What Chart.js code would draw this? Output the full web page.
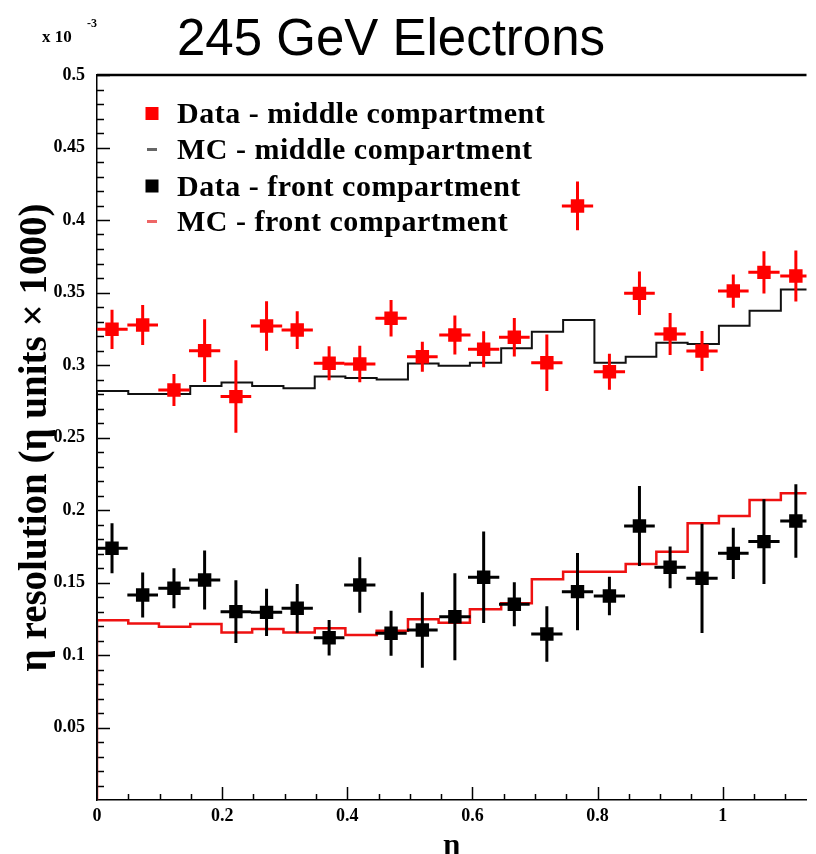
<!DOCTYPE html>
<html>
<head>
<meta charset="utf-8">
<title>245 GeV Electrons</title>
<script src="https://cdn.jsdelivr.net/npm/chart.js@4.4.1/dist/chart.umd.min.js"></script>
<style>
    html, body { margin: 0; padding: 0; background: #fff; }
    #wrap { width: 816px; height: 854px; }
</style>
</head>
<body>
<div id="wrap"><canvas id="chart" width="816" height="854"></canvas></div>
<script>
// Bin edges in eta (MC histograms)
const binEdges = [0, 0.050, 0.099, 0.149, 0.199, 0.248, 0.298, 0.348, 0.397, 0.447, 0.497, 0.546,
    0.596, 0.646, 0.695, 0.745, 0.795, 0.845, 0.894, 0.944, 0.994, 1.043, 1.093, 1.143];

// Eta of the measured points
const etaPoints = [0.024, 0.073, 0.123, 0.172, 0.222, 0.271, 0.320, 0.371, 0.420, 0.470, 0.520, 0.572,
    0.618, 0.667, 0.719, 0.768, 0.819, 0.867, 0.916, 0.967, 1.017, 1.066, 1.117];

// Data - middle compartment
const dataMiddle = [0.3246, 0.3276, 0.2828, 0.3099, 0.2782, 0.3269, 0.3241, 0.3012, 0.3007, 0.3322, 0.3057, 0.3207,
    0.3108, 0.3191, 0.3016, 0.4097, 0.2954, 0.3494, 0.3214, 0.3097, 0.3510, 0.3639, 0.3614];
const dataMiddleErr = [0.0135, 0.0138, 0.0110, 0.0216, 0.0250, 0.0170, 0.0130, 0.0117, 0.0126, 0.0126, 0.0103, 0.0134,
    0.0124, 0.0133, 0.0195, 0.0168, 0.0124, 0.0150, 0.0145, 0.0138, 0.0115, 0.0146, 0.0176];

// Data - front compartment
const dataFront = [0.1736, 0.1414, 0.1460, 0.1517, 0.1299, 0.1294, 0.1322, 0.1119, 0.1483, 0.1150, 0.1172, 0.1264,
    0.1536, 0.1350, 0.1145, 0.1437, 0.1407, 0.1890, 0.1605, 0.1529, 0.1701, 0.1782, 0.1924];
const dataFrontErr = [0.0172, 0.0155, 0.0138, 0.0204, 0.0216, 0.0163, 0.0168, 0.0122, 0.0192, 0.0155, 0.0260, 0.0300,
    0.0315, 0.0152, 0.0192, 0.0267, 0.0132, 0.0276, 0.0144, 0.0377, 0.0176, 0.0292, 0.0253];

// MC histograms (one value per bin)
const mcMiddle = [0.2820, 0.2800, 0.2800, 0.2855, 0.2880, 0.2855, 0.2840, 0.2920, 0.2910, 0.2900, 0.3010, 0.2995,
    0.3016, 0.3115, 0.3230, 0.3310, 0.3016, 0.3057, 0.3154, 0.3145, 0.3270, 0.3375, 0.3520];
const mcFront = [0.1240, 0.1218, 0.1195, 0.1214, 0.1156, 0.1180, 0.1156, 0.1184, 0.1138, 0.1168, 0.1246, 0.1223,
    0.1315, 0.1357, 0.1522, 0.1574, 0.1574, 0.1628, 0.1712, 0.1908, 0.1959, 0.2069, 0.2115];

const titleText = '245 GeV Electrons';
const yTitle = 'η resolution (η units × 1000)';
const xTitle = 'η';
const legendLabels = ['Data - middle compartment', 'MC - middle compartment',
    'Data - front compartment', 'MC - front compartment'];

const serif = '"Liberation Serif", "Times New Roman", serif';

// Build step-histogram points (starts from zero at the first edge)
function histPoints(values) {
    const pts = [{ x: binEdges[0], y: 0 }];
    values.forEach((v, i) => pts.push({ x: binEdges[i], y: v }));
    pts.push({ x: binEdges[binEdges.length - 1], y: values[values.length - 1] });
    return pts;
}

function dataPoints(values) {
    return values.map((v, i) => ({ x: etaPoints[i], y: v }));
}

// Error bars, drawn right before their dataset
const errorBars = {
    id: 'errorBars',
    beforeDatasetDraw(chart, args) {
        const ds = chart.data.datasets[args.index];
        if (!ds.yErr) return;
        const { ctx, chartArea } = chart;
        const xs = chart.scales.x;
        const ys = chart.scales.y;
        ctx.save();
        ctx.beginPath();
        ctx.rect(chartArea.left, chartArea.top, chartArea.width, chartArea.height);
        ctx.clip();
        ctx.strokeStyle = ds.borderColor;
        ctx.lineWidth = 3;
        ds.data.forEach((p, i) => {
            const hw = (binEdges[i + 1] - binEdges[i]) / 2;
            const px = xs.getPixelForValue(p.x);
            const py = ys.getPixelForValue(p.y);
            ctx.beginPath();
            ctx.moveTo(xs.getPixelForValue(p.x - hw), py);
            ctx.lineTo(xs.getPixelForValue(p.x + hw), py);
            ctx.moveTo(px, ys.getPixelForValue(p.y - ds.yErr[i]));
            ctx.lineTo(px, ys.getPixelForValue(p.y + ds.yErr[i]));
            ctx.stroke();
        });
        ctx.restore();
    }
};

// Inward ticks (ROOT style), top frame line, title and legend
const frame = {
    id: 'frame',
    beforeDatasetsDraw(chart) {
        const { ctx, chartArea: a } = chart;
        const xs = chart.scales.x;
        const ys = chart.scales.y;
        ctx.save();
        ctx.strokeStyle = '#000';
        ctx.lineWidth = 1.5;
        ctx.beginPath();
        // y ticks every 0.01, major every 0.05
        for (let i = 1; i <= 50; i++) {
            const py = Math.round(ys.getPixelForValue(i / 100)) + 0.5;
            const len = i % 5 === 0 ? 13 : 7;
            ctx.moveTo(a.left, py);
            ctx.lineTo(a.left + len, py);
        }
        // x ticks every 0.05, major every 0.2
        for (let i = 1; i / 20 <= xs.max; i++) {
            const px = Math.round(xs.getPixelForValue(i / 20)) + 0.5;
            const len = i % 4 === 0 ? 13 : 6;
            ctx.moveTo(px, a.bottom);
            ctx.lineTo(px, a.bottom - len);
        }
        ctx.stroke();
        // top frame
        ctx.lineWidth = 2.5;
        ctx.beginPath();
        ctx.moveTo(a.left, a.top);
        ctx.lineTo(a.right, a.top);
        ctx.stroke();
        ctx.restore();
    },
    afterDraw(chart) {
        const { ctx, chartArea: a } = chart;
        ctx.save();
        ctx.fillStyle = '#000';
        ctx.textBaseline = 'alphabetic';
        ctx.textAlign = 'left';

        // title
        ctx.font = '51px "Liberation Sans", Arial, sans-serif';
        ctx.fillText(titleText, 177, 55);

        // exponent of the y axis
        ctx.font = 'bold 17px ' + serif;
        ctx.fillText('x 10', 42, 42);
        ctx.font = 'bold 12px ' + serif;
        ctx.fillText('-3', 87, 27);

        // legend
        const ds = chart.data.datasets;
        const rowY = [113.5, 149.5, 186, 221.5];
        const markX = a.left + 55;
        ctx.font = 'bold 30px ' + serif;
        ctx.letterSpacing = '0.5px';
        ds.forEach((d, i) => {
            const y = rowY[i];
            if (d.showLine === false) {
                ctx.fillStyle = d.backgroundColor;
                ctx.fillRect(markX - 6.5, y - 6.5, 13, 13);
            } else {
                ctx.fillStyle = d.legendColor;
                ctx.fillRect(markX - 5, y - 1.5, 10, 3);
            }
            ctx.fillStyle = '#000';
            ctx.fillText(d.label, a.left + 80, y + 9.5);
        });
        ctx.restore();
    }
};

const ctx = document.getElementById('chart').getContext('2d');

new Chart(ctx, {
    type: 'line',
    data: {
        datasets: [
            {
                label: legendLabels[0],
                data: dataPoints(dataMiddle),
                yErr: dataMiddleErr,
                showLine: false,
                pointStyle: 'rect',
                pointRadius: 9.5,
                backgroundColor: '#ff0000',
                borderColor: '#ff0000',
                pointBorderWidth: 0,
                order: 1
            },
            {
                label: legendLabels[1],
                data: histPoints(mcMiddle),
                stepped: true,
                borderColor: '#111111',
                legendColor: '#666666',
                borderWidth: 2,
                pointRadius: 0,
                fill: false,
                order: 3
            },
            {
                label: legendLabels[2],
                data: dataPoints(dataFront),
                yErr: dataFrontErr,
                showLine: false,
                pointStyle: 'rect',
                pointRadius: 9.5,
                backgroundColor: '#000000',
                borderColor: '#000000',
                pointBorderWidth: 0,
                order: 2
            },
            {
                label: legendLabels[3],
                data: histPoints(mcFront),
                stepped: true,
                borderColor: '#ee1111',
                legendColor: '#ee6666',
                borderWidth: 2.5,
                pointRadius: 0,
                fill: false,
                order: 4
            }
        ]
    },
    options: {
        responsive: false,
        animation: false,
        devicePixelRatio: 1,
        layout: { padding: { top: 75, left: 0, right: 0, bottom: 0 } },
        plugins: {
            legend: { display: false },
            tooltip: { enabled: false }
        },
        scales: {
            x: {
                type: 'linear',
                min: 0,
                max: 1.134,
                grid: { display: false, drawTicks: false },
                border: { display: true, color: '#000', width: 1.5 },
                ticks: {
                    stepSize: 0.2,
                    includeBounds: false,
                    padding: 6,
                    color: '#000',
                    font: { family: serif, weight: 'bold', size: 18 },
                    callback: v => String(+v.toFixed(1))
                },
                title: {
                    display: true,
                    text: xTitle,
                    color: '#000',
                    padding: { top: 0, bottom: 0 },
                    font: { family: serif, weight: 'bold', size: 30, lineHeight: 0.5 }
                },
                afterFit: s => { s.height = 54; }
            },
            y: {
                min: 0,
                max: 0.5,
                grid: { display: false, drawTicks: false },
                border: { display: true, color: '#000', width: 1.5 },
                ticks: {
                    stepSize: 0.05,
                    padding: 12,
                    color: '#000',
                    font: { family: serif, weight: 'bold', size: 18 },
                    callback: v => (v === 0 ? '' : String(+v.toFixed(2)))
                },
                title: {
                    display: true,
                    text: yTitle,
                    color: '#000',
                    padding: { top: 16, bottom: 0 },
                    font: { family: serif, weight: 'bold', size: 39, lineHeight: 1 }
                },
                afterFit: s => { s.width = 97; }
            }
        }
    },
    plugins: [errorBars, frame]
});
</script>
</body>
</html>
